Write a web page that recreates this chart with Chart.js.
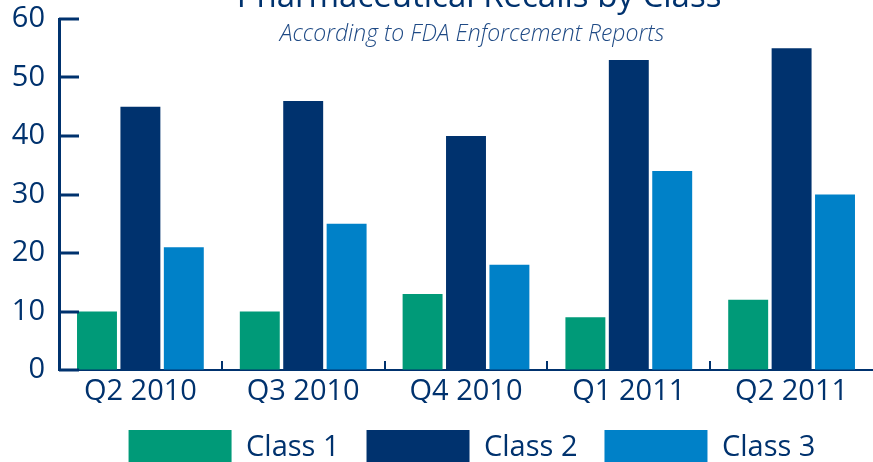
<!DOCTYPE html>
<html>
<head>
<meta charset="utf-8">
<script src="https://cdn.jsdelivr.net/npm/chart.js@4/dist/chart.umd.min.js"></script>
<style>
  html, body { margin: 0; padding: 0; background: #fff; }
  #wrap { width: 873px; height: 462px; }
</style>
</head>
<body>
<div id="wrap"><canvas id="chart"></canvas></div>
<script>
const quarters = ["Q2 2010", "Q3 2010", "Q4 2010", "Q1 2011", "Q2 2011"];
const class1 = [10, 10, 13, 9, 12];
const class2 = [45, 46, 40, 53, 55];
const class3 = [21, 25, 18, 34, 30];
const yTicks = [0, 10, 20, 30, 40, 50, 60];

const NAVY = "#00326e";
const GREEN = "#009a78";
const BLUE = "#0081c8";
const FONT = "'Open Sans', 'DejaVu Sans', sans-serif";

// title + subtitle sit above the plot, title partly off the top
const headerPlugin = {
  id: "header",
  afterLayout(chart) {
    // legend sits a bit right of the plot centre
    chart.legend.left += 6;
    chart.legend.right += 6;
  },
  afterDraw(chart) {
    const ctx = chart.ctx;
    const cx = (chart.chartArea.left + chart.chartArea.right) / 2;
    ctx.save();
    ctx.fillStyle = NAVY;
    ctx.textAlign = "center";
    ctx.textBaseline = "alphabetic";
    ctx.font = "33px " + FONT;
    ctx.fillText("Pharmaceutical Recalls by Class", cx + 13, 7);
    ctx.fillStyle = "#1f4a85";
    ctx.font = "italic 300 23px " + FONT;
    ctx.fillText("According to FDA Enforcement Reports", cx + 6, 41);
    ctx.restore();
  }
};

// y ticks point into the plot, x ticks are short marks between groups
const tickPlugin = {
  id: "innerTicks",
  afterDraw(chart) {
    const ctx = chart.ctx;
    const y = chart.scales.y;
    const x = chart.scales.x;
    const area = chart.chartArea;
    ctx.save();
    ctx.strokeStyle = NAVY;
    ctx.lineWidth = 3;
    ctx.beginPath();
    y.ticks.forEach(t => {
      const py = Math.round(y.getPixelForValue(t.value));
      ctx.moveTo(area.left, py);
      ctx.lineTo(area.left + 20, py);
    });
    ctx.stroke();
    ctx.lineWidth = 2;
    ctx.beginPath();
    for (let i = 1; i < quarters.length; i++) {
      const px = Math.round((x.getPixelForTick(i - 1) + x.getPixelForTick(i)) / 2);
      ctx.moveTo(px, area.bottom);
      ctx.lineTo(px, area.bottom - 9);
    }
    ctx.stroke();
    ctx.restore();
  }
};

new Chart(document.getElementById("chart"), {
  type: "bar",
  data: {
    labels: quarters,
    datasets: [
      { label: "Class 1", data: class1, backgroundColor: GREEN },
      { label: "Class 2", data: class2, backgroundColor: NAVY },
      { label: "Class 3", data: class3, backgroundColor: BLUE }
    ]
  },
  options: {
    responsive: true,
    maintainAspectRatio: false,
    animation: false,
    layout: { padding: { top: 19, right: 0, left: 0, bottom: -14 } },
    datasets: { bar: { categoryPercentage: 0.8, barPercentage: 0.92 } },
    scales: {
      x: {
        grid: { display: true, drawOnChartArea: false, drawTicks: false },
        border: { display: true, color: NAVY, width: 2 },
        ticks: { color: NAVY, font: { family: FONT, size: 29 }, padding: 4, maxRotation: 0 },
        afterFit(scale) {
          scale.height = 33;
          scale.paddingLeft = 0;
          scale.paddingRight = 0;
        }
      },
      y: {
        min: 0,
        max: 60,
        afterBuildTicks(scale) { scale.ticks = yTicks.map(v => ({ value: v })); },
        grid: { display: true, drawOnChartArea: false, drawTicks: false },
        border: { display: true, color: NAVY, width: 3 },
        ticks: { color: NAVY, font: { family: FONT, size: 29 }, padding: 14 },
        afterFit(scale) {
          scale.width = 59;
          scale.paddingTop = 0;
          scale.paddingBottom = 0;
        }
      }
    },
    plugins: {
      legend: {
        position: "bottom",
        fullSize: false,
        labels: {
          color: NAVY,
          font: { family: FONT, size: 29 },
          boxWidth: 103,
          boxHeight: 36,
          padding: 27
        }
      },
      tooltip: { enabled: false }
    }
  },
  plugins: [headerPlugin, tickPlugin]
});
</script>
</body>
</html>
